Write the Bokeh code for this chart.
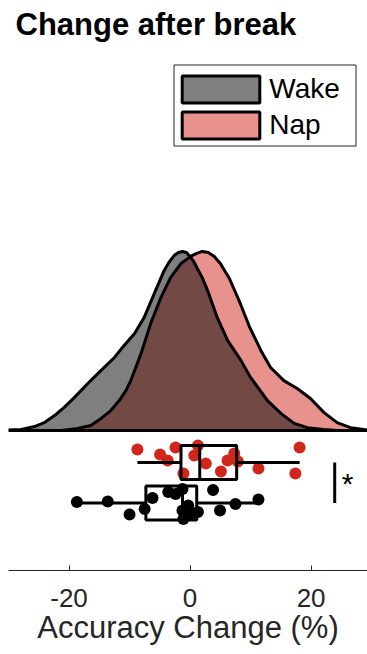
from bokeh.plotting import figure
from bokeh.models import Range1d, Legend, LegendItem, Label, FixedTicker
from bokeh.embed import file_html
from bokeh.resources import INLINE

# ---------------- data ----------------
groups = ["Wake", "Nap"]

# individual accuracy changes (%) and their vertical jitter (fraction of row half-height)
wake_change = [-18.7, -13.6, -10.0, -7.5, -6.2, -3.6, -2.4, -1.25, -1.25, -1.1, -0.3, 0.1, 1.3, 3.8, 4.95, 7.5, 11.3]
wake_jitter = [-0.06, -0.09, 0.68, 0.35, -0.29, -0.65, -0.53, -0.82, 0.44, 0.94, 0.15, 0.65, 0.53, -0.76, 0.44, 0.06, -0.21]
nap_change = [-8.7, -4.95, -3.7, -2.4, -1.1, 0.7, 1.3, 2.6, 5.1, 6.2, 7.3, 7.9, 11.3, 17.4, 18.1]
nap_jitter = [-0.76, -0.47, -0.12, -0.88, 0.65, -0.41, -1.0, 0.06, 0.53, -0.12, -0.53, -0.06, 0.35, 0.65, -0.88]

# box-plot statistics [Wake, Nap]
box_q1 = [-7.3, -1.5]
box_median = [-1.25, 1.6]
box_q3 = [1.1, 7.7]
whisker_lo = [-18.7, -8.7]
whisker_hi = [11.3, 18.1]

# kernel density estimates
wake_density_x = [-31.7, -27.9, -25.7, -24.1, -22.4, -20.8, -19.1, -16.9, -14.7, -12.5,
                  -10.9, -9.2, -7.6, -5.9, -4.3, -3.5, -2.6, -1.9, -1.25, -0.6,
                  0.0, 0.7, 1.2, 2.0, 2.9, 4.5, 6.2, 8.4, 10.0, 12.8,
                  15.0, 17.2, 19.4, 22.1, 24.3]
wake_density = [0, 0.0003, 0.0011, 0.0022, 0.0042, 0.0065, 0.0093, 0.0132, 0.0169, 0.0205,
                0.0239, 0.0272, 0.0317, 0.0385, 0.0449, 0.0472, 0.0492, 0.0500, 0.0503, 0.0500,
                0.0489, 0.0472, 0.0455, 0.0430, 0.0393, 0.0317, 0.0253, 0.0197, 0.0149, 0.0084,
                0.0048, 0.0020, 0.0008, 0.0003, 0]
nap_density_x = [-21.3, -18.6, -16.4, -14.7, -13.1, -11.7, -10.6, -9.8, -8.1, -6.5,
                 -4.8, -3.2, -1.5, 0.1, 1.0, 2.0, 3.0, 4.0, 5.0, 6.5,
                 8.1, 9.8, 11.7, 13.3, 15.5, 17.7, 19.9, 22.1, 24.3, 26.5,
                 28.7, 30.7]
nap_density = [0, 0.0006, 0.0014, 0.0034, 0.0056, 0.0084, 0.0112, 0.0140, 0.0216, 0.0301,
               0.0374, 0.0430, 0.0469, 0.0489, 0.0497, 0.0503, 0.0500, 0.0489, 0.0469, 0.0427,
               0.0365, 0.0292, 0.0225, 0.0177, 0.0140, 0.0118, 0.0090, 0.0051, 0.0022, 0.0008,
               0.0003, 0]

x_ticks = [-20, 0, 20]
x_tick_labels = ["-20", "0", "20"]
sig_x = 23.9
title_text = "Change after break"
x_label = "Accuracy Change (%)"

# ---------------- layout / style ----------------
RED = "#D0261C"
FONT = "Liberation Sans"
TXT = "#262626"
W, H = 367, 654
LEFT, TOP, BOTTOM = 8, 8, 84
S = 3560.0          # pixels per density unit
XS = 6.052          # pixels per % on x
X0 = -30.0
X1 = X0 + (W - LEFT) / XS
y_lo = -140 / S
y_hi = 422 / S

def px_x(px):       # page px -> data x
    return X0 + (px - 8) / XS

def px_y(py):       # page px -> data y (baseline at page y 430)
    return (430 - py) / S

row_center = [px_y(502.5), px_y(462)]   # Wake, Nap
half_h = 17 / S

p = figure(width=W, height=H, x_range=Range1d(X0, X1), y_range=Range1d(y_lo, y_hi),
           output_backend="svg", toolbar_location=None, y_axis_location=None,
           min_border_left=LEFT, min_border_right=0, min_border_top=TOP, min_border_bottom=BOTTOM)
p.outline_line_color = None
p.xgrid.grid_line_color = None
p.ygrid.grid_line_color = None
p.background_fill_color = "white"
p.border_fill_color = "white"

ax = p.xaxis[0]
ax.ticker = FixedTicker(ticks=x_ticks)
ax.major_label_overrides = {t: s for t, s in zip(x_ticks, x_tick_labels)}
ax.major_tick_in = 5
ax.major_tick_out = 0
ax.minor_tick_line_color = None
ax.axis_line_color = TXT
ax.major_tick_line_color = TXT
ax.major_label_text_color = TXT
ax.major_label_text_font = FONT
ax.major_label_text_font_size = "26px"
ax.major_label_standoff = 18
ax.axis_label = x_label
ax.axis_label_text_font = FONT
ax.axis_label_text_font_size = "31px"
ax.axis_label_text_font_style = "normal"
ax.axis_label_text_color = TXT
ax.axis_label_standoff = 0

# legend frame
p.quad(left=[px_x(173.5)], right=[px_x(355.5)], top=[px_y(64.5)], bottom=[px_y(145.5)],
       fill_color="white", line_color=TXT, line_width=1)

# densities
nap_r = p.patch(nap_density_x, nap_density, fill_color=RED, fill_alpha=0.5,
                line_color="black", line_width=3)
wake_r = p.patch(wake_density_x, wake_density, fill_color="black", fill_alpha=0.5,
                 line_color="black", line_width=3)

# dots
wake_y = [row_center[0] - j * half_h for j in wake_jitter]
nap_y = [row_center[1] - j * half_h for j in nap_jitter]
p.scatter(nap_change, nap_y, size=12, fill_color=RED, line_color=None)
p.scatter(wake_change, wake_y, size=12, fill_color="black", line_color=None)

# boxes
tops = [c + half_h for c in row_center]
bots = [c - half_h for c in row_center]
p.quad(left=box_q1, right=box_q3, top=tops, bottom=bots, fill_color=None,
       line_color="black", line_width=3)
p.segment(x0=box_median, y0=bots, x1=box_median, y1=tops, line_color="black", line_width=3)
p.segment(x0=whisker_lo, y0=row_center, x1=box_q1, y1=row_center, line_color="black", line_width=3)
p.segment(x0=box_q3, y0=row_center, x1=whisker_hi, y1=row_center, line_color="black", line_width=3)

# significance
p.segment(x0=[sig_x], y0=[row_center[1]], x1=[sig_x], y1=[row_center[0]], line_color="black", line_width=3)
p.add_layout(Label(x=px_x(347), y=px_y(483), text="*", text_align="center",
                   text_baseline="alphabetic", text_font=FONT, text_font_size="30px",
                   text_color="black"))

# title
p.add_layout(Label(x=px_x(15), y=px_y(23.5), text=title_text, text_align="left",
                   text_baseline="alphabetic", text_font=FONT, text_font_size="31px",
                   text_font_style="bold", text_color="black"))

# legend (area glyphs are drawn inset by 10% of the glyph box)
legend = Legend(items=[LegendItem(label=groups[0], renderers=[wake_r]),
                       LegendItem(label=groups[1], renderers=[nap_r])],
                location=(172.25 - 8, 570 - 142.1), orientation="vertical",
                glyph_width=97, glyph_height=34, label_width=76, label_height=34,
                label_standoff=-3, spacing=2, padding=0, margin=0,
                label_text_font=FONT, label_text_font_size="28px", label_text_color="black",
                border_line_color=None, background_fill_alpha=0)
p.add_layout(legend)

open("out.html", "w").write(file_html(p, INLINE))
